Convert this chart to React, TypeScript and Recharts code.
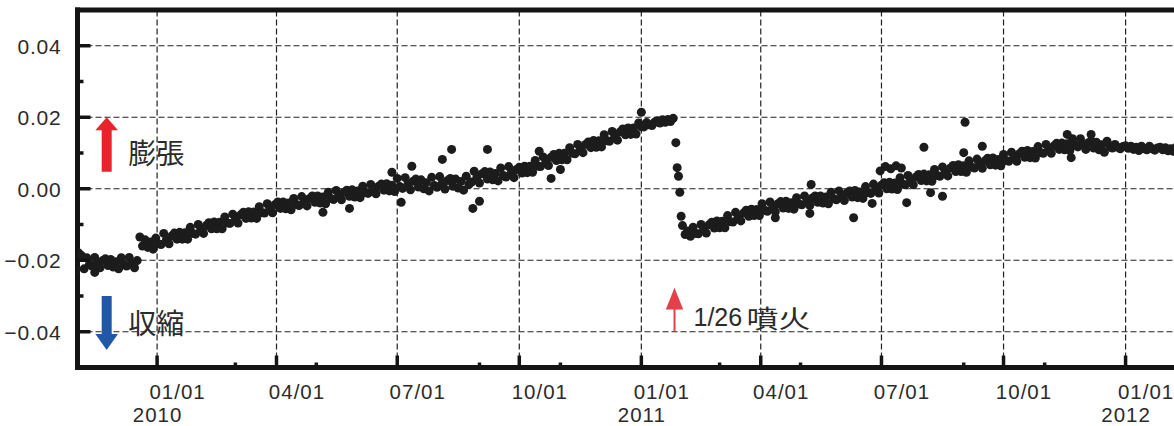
import React from 'react';
import { ScatterChart, Scatter, XAxis, YAxis, ReferenceLine, ReferenceDot } from 'recharts';

// ---------- data ----------
const DAY = 86400000;
const toMs = (s: string) => Date.parse(s + 'T00:00:00Z');

// pre-eruption record (one reading every 2 days from the start date)
const preStart = '2009-11-01';
const preStep = 2;
const preValues = [
  -0.0226, -0.018, -0.0187, -0.0224, -0.0193, -0.0212, -0.0216, -0.0192, -0.0208, -0.0221,
  -0.0201, -0.0196, -0.0215, -0.0198, -0.0219, -0.0204, -0.0224, -0.0193, -0.0212, -0.0216,
  -0.0192, -0.0208, -0.0221, -0.0201, -0.0135, -0.016, -0.0143, -0.0164, -0.0149, -0.0169,
  -0.0138, -0.0154, -0.0156, -0.0125, -0.0143, -0.0154, -0.0132, -0.0124, -0.0141, -0.0122,
  -0.0141, -0.0123, -0.0141, -0.0108, -0.0125, -0.0127, -0.01, -0.0114, -0.0125, -0.0103,
  -0.0095, -0.0112, -0.0093, -0.0112, -0.0094, -0.0112, -0.0079, -0.0096, -0.0097, -0.0071,
  -0.0085, -0.0096, -0.0073, -0.0066, -0.0083, -0.0064, -0.0082, -0.0065, -0.0083, -0.005,
  -0.0067, -0.0068, -0.0042, -0.0056, -0.0067, -0.0044, -0.0037, -0.0055, -0.0037, -0.0056,
  -0.004, -0.0059, -0.0027, -0.0044, -0.0047, -0.0022, -0.0036, -0.0048, -0.0027, -0.002,
  -0.0038, -0.002, -0.004, -0.0023, -0.0042, -0.001, -0.0027, -0.003, -0.0005, -0.002,
  -0.0031, -0.001, -0.0004, -0.0021, -0.0003, -0.0023, -0.0006, -0.0025, 0.0007, -0.0011,
  -0.0013, 0.0012, -0.0003, -0.0014, 0.0007, 0.0013, -0.0004, 0.0014, -0.0006, 0.001,
  -0.0008, 0.0029, 0.0006, 0.0001, 0.0031, 0.0012, -0.0003, 0.0021, 0.0027, 0.0005,
  0.0025, 0.0, 0.0017, -0.0006, 0.0032, 0.0009, 0.0004, 0.0034, 0.0016, -0.0001,
  0.0023, 0.0029, 0.0007, 0.0027, 0.0002, 0.002, -0.0004, 0.0035, 0.0012, 0.0019,
  0.0049, 0.0031, 0.0016, 0.0042, 0.0048, 0.0027, 0.0047, 0.0025, 0.0043, 0.0022,
  0.0058, 0.0037, 0.0033, 0.0062, 0.0045, 0.0031, 0.0054, 0.006, 0.0044, 0.0063,
  0.0045, 0.0063, 0.0046, 0.0079, 0.0063, 0.0062, 0.0089, 0.0075, 0.0065, 0.0088,
  0.0096, 0.0079, 0.0099, 0.0081, 0.0099, 0.0081, 0.0115, 0.0099, 0.0098, 0.0124,
  0.0111, 0.0101, 0.0124, 0.0131, 0.0115, 0.0135, 0.0116, 0.0134, 0.0117, 0.0151,
  0.0134, 0.0133, 0.016, 0.0147, 0.0136, 0.0159, 0.0167, 0.0151, 0.017, 0.0152,
  0.017, 0.0153, 0.0184, 0.0173, 0.0173, 0.0185, 0.0179, 0.0177, 0.0186, 0.019,
  0.0184, 0.0193, 0.0186, 0.0194, 0.0188, 0.0197,
];

// rapid deflation at the eruption
const dropDates = ['2011-01-27', '2011-01-28', '2011-01-29', '2011-01-30', '2011-01-31'];
const dropValues = [0.0129, 0.0059, 0.0035, -0.001, -0.0077];

// post-eruption record (one reading every 2 days from the start date)
const postStart = '2011-02-01';
const postStep = 2;
const postValues = [
  -0.0103, -0.0128, -0.0118, -0.0133, -0.0108, -0.0125, -0.0126, -0.01, -0.0113, -0.0124,
  -0.0101, -0.0094, -0.011, -0.009, -0.0109, -0.0091, -0.0109, -0.0075, -0.0092, -0.0093,
  -0.0066, -0.008, -0.009, -0.0068, -0.006, -0.0077, -0.0057, -0.0075, -0.0058, -0.0075,
  -0.0042, -0.006, -0.0063, -0.0037, -0.0052, -0.0064, -0.0042, -0.0036, -0.0054, -0.0035,
  -0.0055, -0.0039, -0.0057, -0.0025, -0.0043, -0.0045, -0.002, -0.0035, -0.0047, -0.0026,
  -0.002, -0.0038, -0.002, -0.004, -0.0023, -0.0042, -0.001, -0.0028, -0.0031, -0.0006,
  -0.0021, -0.0033, -0.0012, -0.0006, -0.0023, -0.0005, -0.0025, -0.0009, -0.0027, 0.0006,
  -0.0011, -0.0013, 0.0013, -0.0001, -0.0012, 0.001, 0.0017, 0.0, 0.0018, -0.0001,
  0.0016, -0.0002, 0.0031, 0.0013, 0.0011, 0.0037, 0.0023, 0.0011, 0.0033, 0.004,
  0.0023, 0.0041, 0.0022, 0.0039, 0.0021, 0.0054, 0.0037, 0.0035, 0.0061, 0.0047,
  0.0036, 0.0058, 0.0065, 0.0048, 0.0067, 0.0048, 0.0064, 0.0046, 0.0078, 0.0061,
  0.0058, 0.0083, 0.0069, 0.0057, 0.0078, 0.0085, 0.0067, 0.0086, 0.0066, 0.0082,
  0.0064, 0.0096, 0.0079, 0.0077, 0.0102, 0.0088, 0.0077, 0.0098, 0.0105, 0.0088,
  0.0107, 0.0087, 0.0104, 0.0086, 0.0118, 0.0101, 0.0099, 0.0124, 0.011, 0.0099,
  0.012, 0.0127, 0.011, 0.0128, 0.0109, 0.0126, 0.0107, 0.014, 0.0122, 0.0117,
  0.014, 0.0124, 0.011, 0.0129, 0.0134, 0.0114, 0.013, 0.0109, 0.0123, 0.0102,
  0.0133, 0.0117, 0.0114, 0.0124, 0.0116, 0.0112, 0.0118, 0.012, 0.0113, 0.0119,
  0.011, 0.0116, 0.0107, 0.0119, 0.0112, 0.0109, 0.0119, 0.0112, 0.0108, 0.0114,
  0.0116, 0.0109, 0.0115, 0.0106, 0.0112, 0.0105, 0.0116,
];

// scattered individual days
const outlierDates = [
  '2009-11-15', '2010-05-06', '2010-05-26', '2010-06-27', '2010-07-04', '2010-07-12',
  '2010-08-04', '2010-08-11', '2010-08-27', '2010-09-01', '2010-09-07', '2010-10-16',
  '2010-10-25', '2010-11-01', '2011-01-01', '2011-04-12', '2011-05-08', '2011-05-09',
  '2011-06-10', '2011-06-24', '2011-06-30', '2011-07-04', '2011-07-08', '2011-07-12',
  '2011-07-16', '2011-07-20', '2011-08-02', '2011-08-07', '2011-08-16', '2011-09-01',
  '2011-09-02', '2011-09-15', '2011-11-18', '2011-11-21', '2011-12-06',
];
const outlierValues = [
  -0.0234, -0.0066, -0.0055, 0.0046, -0.0038, 0.0063,
  0.0082, 0.011, -0.0055, -0.0035, 0.011, 0.0105,
  0.0029, 0.0054, 0.0214, -0.0081, -0.0069, 0.0012,
  -0.0081, -0.0041, 0.005, 0.0062, 0.0056, 0.0064,
  0.0058, -0.0039, 0.0116, -0.0011, -0.0021, 0.0101,
  0.0186, 0.0119, 0.0152, 0.0087, 0.0152,
];

// axes
const xDomain = ['2009-11-02', '2012-02-08'];
const majorXTicks = [
  '2010-01-01', '2010-04-01', '2010-07-01', '2010-10-01',
  '2011-01-01', '2011-04-01', '2011-07-01', '2011-10-01', '2012-01-01',
];
const minorXTicks = [
  '2010-03-01', '2010-05-01', '2010-09-01', '2010-11-01',
  '2011-03-01', '2011-05-01', '2011-09-01', '2011-11-01',
];
const yearTickDates = ['2010-01-01', '2011-01-01', '2012-01-01'];
const yearTickLabels = ['2010', '2011', '2012'];
const yDomain = [-0.05, 0.05];
const yTicks = [-0.04, -0.03, -0.02, -0.01, 0, 0.01, 0.02, 0.03, 0.04];
const yMajor = [-0.04, -0.02, 0, 0.02, 0.04];

// annotations
const eruptionDate = '2011-01-26';
const eruptionLabel = '1/26';
const eruptionWord = '噴火';
const inflationLabel = '膨張';
const deflationLabel = '収縮';

// ---------- build ----------
type Pt = { t: number; v: number };
const points: Pt[] = [
  ...preValues.map((v, i) => ({ t: toMs(preStart) + i * preStep * DAY, v })),
  ...dropValues.map((v, i) => ({ t: toMs(dropDates[i]), v })),
  ...postValues.map((v, i) => ({ t: toMs(postStart) + i * postStep * DAY, v })),
  ...outlierValues.map((v, i) => ({ t: toMs(outlierDates[i]), v })),
];

const majorSet = new Set(majorXTicks.map(toMs));
const xTicks = [...majorXTicks, ...minorXTicks].map(toMs).sort((a, b) => a - b);
const yearMap = new Map(yearTickDates.map((d, i) => [toMs(d), yearTickLabels[i]]));

const LATIN = '"Liberation Sans", Arial, Helvetica, sans-serif';
const CJK = '"Noto Sans CJK JP", "Noto Sans CJK SC", sans-serif';
const TEXT = '#2b2b2b';
const INK = '#141414';

const isMajorY = (v: number) => Math.abs(Math.round(v * 100)) % 2 === 0;
const fmtY = (v: number) => (v < -1e-9 ? '\u2212' : '') + Math.abs(v).toFixed(2);

const BottomTick = (props: any) => {
  const { x, y, payload } = props;
  const t = payload.value as number;
  const major = majorSet.has(t);
  const mm = String(new Date(t).getUTCMonth() + 1).padStart(2, '0');
  const year = yearMap.get(t);
  return (
    <g>
      <line x1={x} x2={x} y1={y} y2={y - (major ? 12 : 5)} stroke={INK} strokeWidth={3.5} />
      {major && (
        <text x={x + 20.5} y={y + 31.1} textAnchor="middle" fontSize={20.5} letterSpacing={1} fontFamily={LATIN} fill={TEXT}>
          {mm}/01
        </text>
      )}
      {year && (
        <text x={x + 0.5} y={y + 54.1} textAnchor="middle" fontSize={20.5} letterSpacing={1} fontFamily={LATIN} fill={TEXT}>
          {year}
        </text>
      )}
    </g>
  );
};

const TopTick = (props: any) => {
  const { x, y, payload } = props;
  const major = majorSet.has(payload.value);
  return <line x1={x} x2={x} y1={y} y2={y + (major ? 13 : 6)} stroke={INK} strokeWidth={3.5} />;
};

const LeftTick = (props: any) => {
  const { x, y, payload } = props;
  const v = payload.value as number;
  const major = isMajorY(v);
  return (
    <g>
      <line x1={x} x2={x + (major ? 13 : 6)} y1={y} y2={y} stroke={INK} strokeWidth={3.5} />
      {major && (
        <text x={x - 16} y={y + 8} textAnchor="end" fontSize={21} letterSpacing={0.8} fontFamily={LATIN} fill={TEXT}>
          {fmtY(v)}
        </text>
      )}
    </g>
  );
};

const RightTick = (props: any) => {
  const { x, y, payload } = props;
  const major = isMajorY(payload.value);
  return <line x1={x} x2={x - (major ? 10 : 4)} y1={y} y2={y} stroke={INK} strokeWidth={3.5} />;
};

const Dot = (p: any) => <circle cx={p.cx} cy={p.cy} r={4.5} fill="#1c1c1c" />;

const InflationMark = (p: any) => {
  const { cx, cy } = p;
  return (
    <g>
      <rect x={cx - 5} y={cy + 11} width={10} height={43.5} fill="#e8232b" />
      <polygon points={`${cx},${cy} ${cx - 11.3},${cy + 13} ${cx + 11.3},${cy + 13}`} fill="#e8232b" />
      <text x={cx + 21.5} y={cy + 35} dominantBaseline="central" fontSize={28} fontFamily={CJK} fill={TEXT}>
        {inflationLabel}
      </text>
    </g>
  );
};

const DeflationMark = (p: any) => {
  const { cx, cy } = p;
  return (
    <g>
      <rect x={cx - 5} y={cy} width={10} height={40} fill="#2058a8" />
      <polygon points={`${cx - 11.3},${cy + 38} ${cx + 11.3},${cy + 38} ${cx},${cy + 54}`} fill="#2058a8" />
      <text x={cx + 21.5} y={cy + 26} dominantBaseline="central" fontSize={28} fontFamily={CJK} fill={TEXT}>
        {deflationLabel}
      </text>
    </g>
  );
};

const EruptionMark = (p: any) => {
  const { cx, cy } = p;
  return (
    <g>
      <rect x={cx - 1} y={cy + 20} width={2} height={23.5} fill="#e5404a" />
      <polygon points={`${cx},${cy} ${cx - 8.7},${cy + 21.7} ${cx + 8.7},${cy + 21.7}`} fill="#e5404a" />
      <text x={cx + 19} y={cy + 38.4} fontSize={25} fontFamily={LATIN} fill={TEXT}>
        {eruptionLabel}
      </text>
      <text
        x={cx + 72}
        y={cy + 29.7}
        dominantBaseline="central"
        fontSize={25}
        textLength={64}
        lengthAdjust="spacingAndGlyphs"
        fontFamily={CJK}
        fill={TEXT}
      >
        {eruptionWord}
      </text>
    </g>
  );
};

export default function App() {
  const xd: [number, number] = [toMs(xDomain[0]), toMs(xDomain[1])];
  const yd: [number, number] = [yDomain[0], yDomain[1]];
  const frameAxis = { stroke: INK, strokeWidth: 5, strokeLinecap: 'square' as const };
  return (
    <div style={{ position: 'absolute', left: 0, top: 0, width: 1174, height: 426, overflow: 'hidden', background: '#fff' }}>
      <ScatterChart width={1176} height={426} margin={{ top: 9, right: 0, bottom: 0, left: 0 }}>
        <XAxis
          xAxisId="b"
          type="number"
          dataKey="t"
          orientation="bottom"
          domain={xd}
          allowDataOverflow
          ticks={xTicks}
          interval={0}
          tickSize={0}
          tickMargin={0}
          tickLine={false}
          axisLine={frameAxis}
          tick={BottomTick}
          height={58.5}
        />
        <XAxis
          xAxisId="t"
          type="number"
          orientation="top"
          domain={xd}
          allowDataOverflow
          ticks={xTicks}
          interval={0}
          tickSize={0}
          tickMargin={0}
          tickLine={false}
          axisLine={frameAxis}
          tick={TopTick}
          height={1}
        />
        <YAxis
          yAxisId="l"
          type="number"
          dataKey="v"
          orientation="left"
          domain={yd}
          allowDataOverflow
          ticks={yTicks}
          interval={0}
          tickSize={0}
          tickMargin={0}
          tickLine={false}
          axisLine={frameAxis}
          tick={LeftTick}
          width={77.5}
        />
        <YAxis
          yAxisId="r"
          type="number"
          orientation="right"
          domain={yd}
          allowDataOverflow
          ticks={yTicks}
          interval={0}
          tickSize={0}
          tickMargin={0}
          tickLine={false}
          axisLine={frameAxis}
          tick={RightTick}
          width={0}
        />
        {majorXTicks.map((d) => (
          <ReferenceLine key={'gx' + d} xAxisId="b" yAxisId="l" x={toMs(d)} stroke="#222" strokeWidth={1.2} strokeDasharray="6 3" />
        ))}
        {yMajor.map((v) => (
          <ReferenceLine key={'gy' + v} xAxisId="b" yAxisId="l" y={v} stroke="#222" strokeWidth={1.2} strokeDasharray="6 3" />
        ))}
        <Scatter xAxisId="b" yAxisId="l" data={points} shape={Dot} isAnimationActive={false} />
        <ReferenceDot xAxisId="b" yAxisId="l" x={toMs('2009-11-24')} y={0.02} r={0} shape={InflationMark} />
        <ReferenceDot xAxisId="b" yAxisId="l" x={toMs('2009-11-24')} y={-0.03} r={0} shape={DeflationMark} />
        <ReferenceDot xAxisId="b" yAxisId="l" x={toMs(eruptionDate)} y={-0.0277} r={0} shape={EruptionMark} />
      </ScatterChart>
    </div>
  );
}
